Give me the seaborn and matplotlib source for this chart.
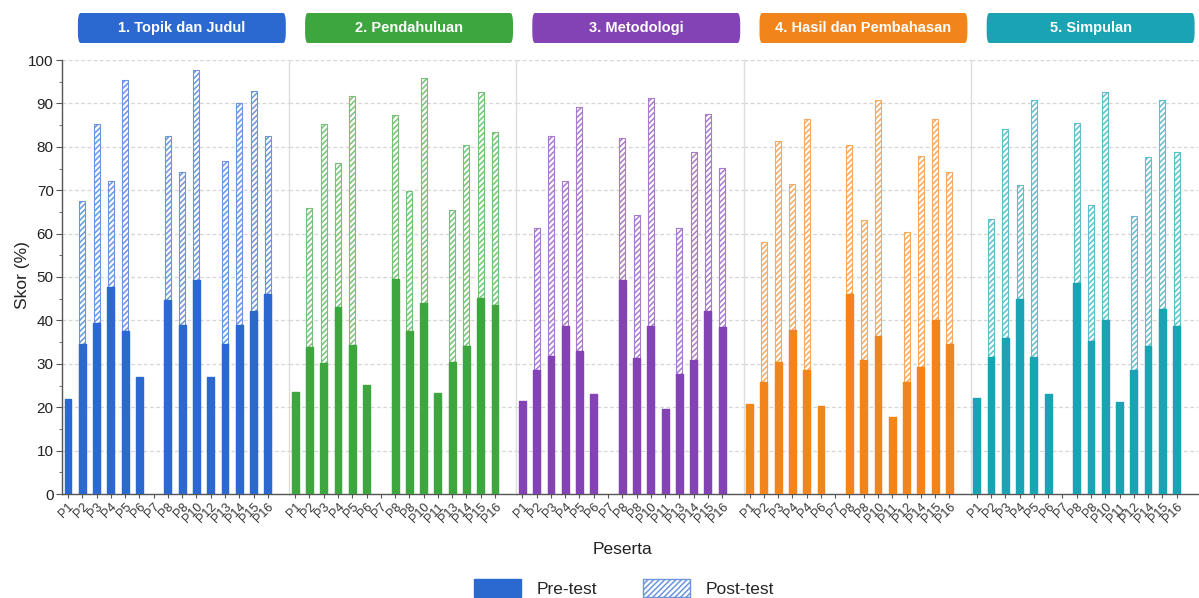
import numpy as np
import pandas as pd
import seaborn as sns
import matplotlib
matplotlib.use("Agg")
import matplotlib.pyplot as plt
from matplotlib.patches import FancyBboxPatch, Patch
from matplotlib.ticker import MultipleLocator
import matplotlib.colors as mcolors

nan = np.nan

panel_titles = ["1. Topik dan Judul", "2. Pendahuluan", "3. Metodologi",
                "4. Hasil dan Pembahasan", "5. Simpulan"]
panel_colors = ["#2b68cf", "#3ea63e", "#8443b4", "#f2841c", "#1aa3b3"]

labels_1 = ["P1", "P2", "P3", "P4", "P5", "P6", "P7", "P8", "P8", "P10", "P12", "P13", "P14", "P15", "P16"]
labels_2 = ["P1", "P2", "P3", "P4", "P5", "P6", "P7", "P8", "P8", "P10", "P11", "P13", "P14", "P15", "P16"]
labels_3 = ["P1", "P2", "P3", "P4", "P5", "P6", "P7", "P8", "P8", "P10", "P11", "P13", "P14", "P15", "P16"]
labels_4 = ["P1", "P2", "P3", "P4", "P4", "P6", "P7", "P8", "P8", "P10", "P11", "P12", "P14", "P15", "P16"]
labels_5 = ["P1", "P2", "P3", "P4", "P5", "P6", "P7", "P8", "P8", "P10", "P11", "P12", "P14", "P15", "P16"]

pre_1 = [22.0, 34.5, 39.5, 47.8, 37.5, 27.0, nan, 44.8, 38.9, 49.3, 27.0, 34.5, 38.9, 42.1, 46.0]
post_1 = [nan, 67.5, 85.3, 72.2, 95.3, nan, nan, 82.6, 74.3, 97.7, nan, 76.8, 90.2, 92.8, 82.4]

pre_2 = [23.5, 33.9, 30.1, 43.0, 34.4, 25.1, nan, 49.6, 37.6, 44.1, 23.3, 30.3, 34.1, 45.2, 43.6]
post_2 = [nan, 65.8, 85.3, 76.3, 91.7, nan, nan, 87.3, 69.9, 95.8, nan, 65.4, 80.3, 92.7, 83.5]

pre_3 = [21.4, 28.5, 31.7, 38.7, 33.0, 23.0, nan, 49.2, 31.4, 38.7, 19.7, 27.6, 30.8, 42.1, 38.5]
post_3 = [nan, 61.3, 82.6, 72.2, 89.1, nan, nan, 82.1, 64.2, 91.3, nan, 61.4, 78.8, 87.6, 75.2]

pre_4 = [20.7, 25.8, 30.4, 37.9, 28.5, 20.3, nan, 46.1, 30.9, 36.3, 17.8, 25.8, 29.2, 40.0, 34.6]
post_4 = [nan, 58.0, 81.4, 71.5, 86.3, nan, nan, 80.4, 63.2, 90.7, nan, 60.4, 77.9, 86.5, 74.3]

pre_5 = [22.1, 31.6, 36.0, 45.0, 31.6, 23.0, nan, 48.6, 35.3, 40.0, 21.1, 28.5, 34.0, 42.7, 38.6]
post_5 = [nan, 63.3, 84.2, 71.2, 90.7, nan, nan, 85.4, 66.6, 92.7, nan, 64.1, 77.7, 90.7, 78.7]

all_labels = [labels_1, labels_2, labels_3, labels_4, labels_5]
all_pre = [pre_1, pre_2, pre_3, pre_4, pre_5]
all_post = [post_1, post_2, post_3, post_4, post_5]

sns.set_theme(style="white")
plt.rcParams['font.family'] = ['Liberation Sans', 'DejaVu Sans']
plt.rcParams['hatch.linewidth'] = 1.1

W, H = 1199, 598
fig = plt.figure(figsize=(W / 100, H / 100), dpi=100)

left_px, right_px = 62, 1198
top_px, bottom_px = 60, 494
pw = (right_px - left_px) / 5

def lighten(c, amt):
    r, g, b = mcolors.to_rgb(c)
    return (r + (1 - r) * amt, g + (1 - g) * amt, b + (1 - b) * amt)

for i in range(5):
    x0 = (left_px + i * pw) / W
    ax = fig.add_axes([x0, 1 - bottom_px / H, pw / W, (bottom_px - top_px) / H])
    color = panel_colors[i]
    n = len(all_labels[i])
    pos = list(range(n))
    df = pd.DataFrame({"pos": pos, "pre": all_pre[i], "post": all_post[i]})

    for yv in range(10, 101, 10):
        ax.axhline(yv, color="#d6d6d6", lw=0.9, ls=(0, (3, 2)), zorder=0)

    sns.barplot(data=df, x="pos", y="post", order=pos, ax=ax, color="white",
                saturation=1, width=0.42, errorbar=None,
                edgecolor=lighten(color, 0.3), linewidth=0.8, hatch="//////",
                zorder=2)
    sns.barplot(data=df, x="pos", y="pre", order=pos, ax=ax, color=color,
                saturation=1, width=0.48, errorbar=None,
                edgecolor=color, linewidth=1.0, zorder=3)
    for p in ax.patches:
        p.set_joinstyle("round")

    ax.set_xlim(-0.42, 15.5)
    ax.set_ylim(0, 100)
    ax.set_xlabel("")
    ax.set_ylabel("")
    ax.set_xticks(pos)
    ax.set_xticklabels(all_labels[i], rotation=45, ha="right",
                       rotation_mode="anchor", fontsize=9, color="#333333")
    ax.tick_params(axis="x", length=3, width=0.8, color="#555555", pad=2,
                   bottom=True)
    for s in ["top", "right"]:
        ax.spines[s].set_visible(False)
    ax.spines["bottom"].set_color("#555555")
    ax.spines["bottom"].set_linewidth(1.0)
    if i == 0:
        ax.spines["left"].set_color("#555555")
        ax.spines["left"].set_linewidth(1.0)
        ax.yaxis.set_major_locator(MultipleLocator(10))
        ax.yaxis.set_minor_locator(MultipleLocator(5))
        ax.tick_params(axis="y", which="major", length=4, width=0.8,
                       color="#555555", labelsize=11, labelcolor="#222222",
                       left=True, pad=2)
        ax.tick_params(axis="y", which="minor", length=2.5, width=0.6,
                       color="#555555", left=True)
    else:
        ax.spines["left"].set_color("#dddddd")
        ax.spines["left"].set_linewidth(1.0)
        ax.set_yticks(range(0, 101, 10))
        ax.tick_params(axis="y", left=False, labelleft=False)

    box_bottom = 1 + (top_px - 43) / (bottom_px - top_px)
    box_h = 30 / (bottom_px - top_px)
    bx0, bx1 = 0.07, 0.985
    fb = FancyBboxPatch((bx0, box_bottom), bx1 - bx0, box_h,
                        boxstyle="round,pad=0,rounding_size=0.012",
                        transform=ax.transAxes, facecolor=color,
                        edgecolor="none", clip_on=False, zorder=5,
                        mutation_aspect=(bottom_px - top_px) / pw)
    ax.add_patch(fb)
    ax.text((bx0 + bx1) / 2, box_bottom + box_h / 2, panel_titles[i],
            transform=ax.transAxes, ha="center", va="center",
            color="white", fontsize=10.5, fontweight="bold", zorder=6)

fig.text(22 / W, 1 - 275 / H, "Skor (%)", rotation=90, ha="center",
         va="center", fontsize=12.5, color="#222222")
fig.text(622 / W, 1 - 549 / H, "Peserta", ha="center", va="center",
         fontsize=12.5, color="#222222")

handles = [Patch(facecolor=panel_colors[0], edgecolor=panel_colors[0],
                 label="Pre-test"),
           Patch(facecolor="white", edgecolor=lighten(panel_colors[0], 0.3),
                 hatch="//////", label="Post-test")]
fig.legend(handles=handles, loc="center", bbox_to_anchor=(624 / W, 1 - 588 / H),
           ncol=2, frameon=False, fontsize=12.5, handlelength=2.7,
           handleheight=1.2, columnspacing=2.6, handletextpad=0.9)

fig.savefig("out.png", dpi=100, facecolor="white")
